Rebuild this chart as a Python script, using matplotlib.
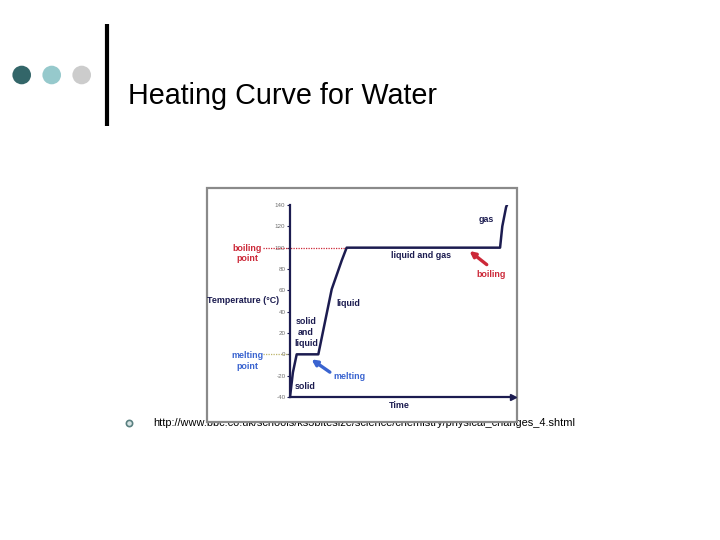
import matplotlib
matplotlib.use('Agg')
from matplotlib import pyplot as plt
from matplotlib.patches import Circle, Rectangle

plt.rcParams['font.family'] = ['Liberation Sans', 'DejaVu Sans']

# heating curve (time in arbitrary units, temperature in deg C)
time = [0, 1.3, 3.0, 12.7, 18.7, 23.2, 25.4, 94.2, 95.2, 96.9, 97.3]
temperature = [-40, -17, 0, 0, 61, 88, 100, 100, 120, 138, 140]
y_ticks = [-40, -20, 0, 20, 40, 60, 80, 100, 120, 140]

melting_point = 0
boiling_point = 100

title = 'Heating Curve for Water'
source_url = 'http://www.bbc.co.uk/schools/ks3bitesize/science/chemistry/physical_changes_4.shtml'

navy = '#1c1c50'
red = '#cc2838'
blue = '#3a64d0'

fig = plt.figure(figsize=(7.2, 5.4), dpi=100)

# slide background, laid out in pixels
bg = fig.add_axes([0, 0, 1, 1])
bg.set_xlim(0, 720)
bg.set_ylim(540, 0)
bg.axis('off')

for cx, col in [(21.7, '#336669'), (51.7, '#96c9cc'), (81.7, '#cccccc')]:
    bg.add_patch(Circle((cx, 75), 9.3, color=col, lw=0))
bg.plot([107, 107], [24, 126], color='black', lw=3, solid_capstyle='butt')
bg.text(128, 103.5, title, fontsize=20.7, va='baseline', ha='left', color='black')

bg.plot([129], [423], marker='o', ms=4.5, mfc='#d8e4e4', mec='#5a8080', mew=1.2)
bg.text(153, 426, source_url, fontsize=7.9, va='baseline', ha='left', color='black', zorder=1)

# white picture frame that covers part of the url
bg.add_patch(Rectangle((206.5, 188), 310.5, 233.5, facecolor='white',
                       edgecolor='#8a8a8a', lw=1.6, zorder=2))

# the chart itself
ax = fig.add_axes([290 / 720, 1 - 397 / 540, 223 / 720, 192 / 540], zorder=1)
ax.patch.set_alpha(0)
ax.set_xlim(0, 100)
ax.set_ylim(-40, 140)

ax.plot(time, temperature, color=navy, lw=1.8, solid_joinstyle='round', zorder=3)

# dotted guide lines
ax.plot([-12, time[6]], [boiling_point, boiling_point], color=red, lw=0.9,
        ls=(0, (1, 1)), clip_on=False, zorder=2)
ax.plot([-12, 0], [melting_point, melting_point], color='#bdb46a', lw=0.9,
        ls=(0, (1, 1)), clip_on=False, zorder=2)

for side in ['top', 'right']:
    ax.spines[side].set_visible(False)
for side in ['left', 'bottom']:
    ax.spines[side].set_color(navy)
    ax.spines[side].set_linewidth(1.6)
ax.plot([100], [-40], marker='>', ms=4, color=navy, clip_on=False, zorder=4)

ax.set_xticks([])
ax.set_yticks(y_ticks)
ax.set_yticklabels([str(v) for v in y_ticks])
ax.tick_params(axis='y', length=2.5, width=0.8, color=navy, pad=0.8,
               labelsize=4.5, labelcolor='#707070')

txt = dict(fontsize=6.4, fontweight='bold', ha='center', va='center', clip_on=False)
ax.text(-19.3, 94.5, 'boiling\npoint', color=red, linespacing=1.25, **txt)
ax.text(-19.3, -6.3, 'melting\npoint', color=blue, linespacing=1.25, **txt)
ax.text(-21.1, 50, 'Temperature (°C)', color=navy, **txt)
ax.text(48.9, -47.5, 'Time', color=navy, **txt)
ax.text(6.7, -29.7, 'solid', color=navy, **txt)
ax.text(7.2, 20.3, 'solid\nand\nliquid', color=navy, linespacing=1.25, **txt)
ax.text(26, 48.1, 'liquid', color=navy, **txt)
ax.text(58.6, 93.1, 'liquid and gas', color=navy, **txt)
ax.text(88.2, 126.6, 'gas', color=navy, **txt)
ax.text(90.4, 75.3, 'boiling', color=red, **txt)
ax.text(26.5, -21, 'melting', color=blue, **txt)

ax.annotate('', xy=(79.5, 98.5), xytext=(89.2, 82.5),
            arrowprops=dict(arrowstyle='-|>', color=red, lw=2.4, mutation_scale=8))
ax.annotate('', xy=(8.6, -3.2), xytext=(18.9, -18.2),
            arrowprops=dict(arrowstyle='-|>', color=blue, lw=2.4, mutation_scale=8))

fig.savefig('out.png', dpi=100)
